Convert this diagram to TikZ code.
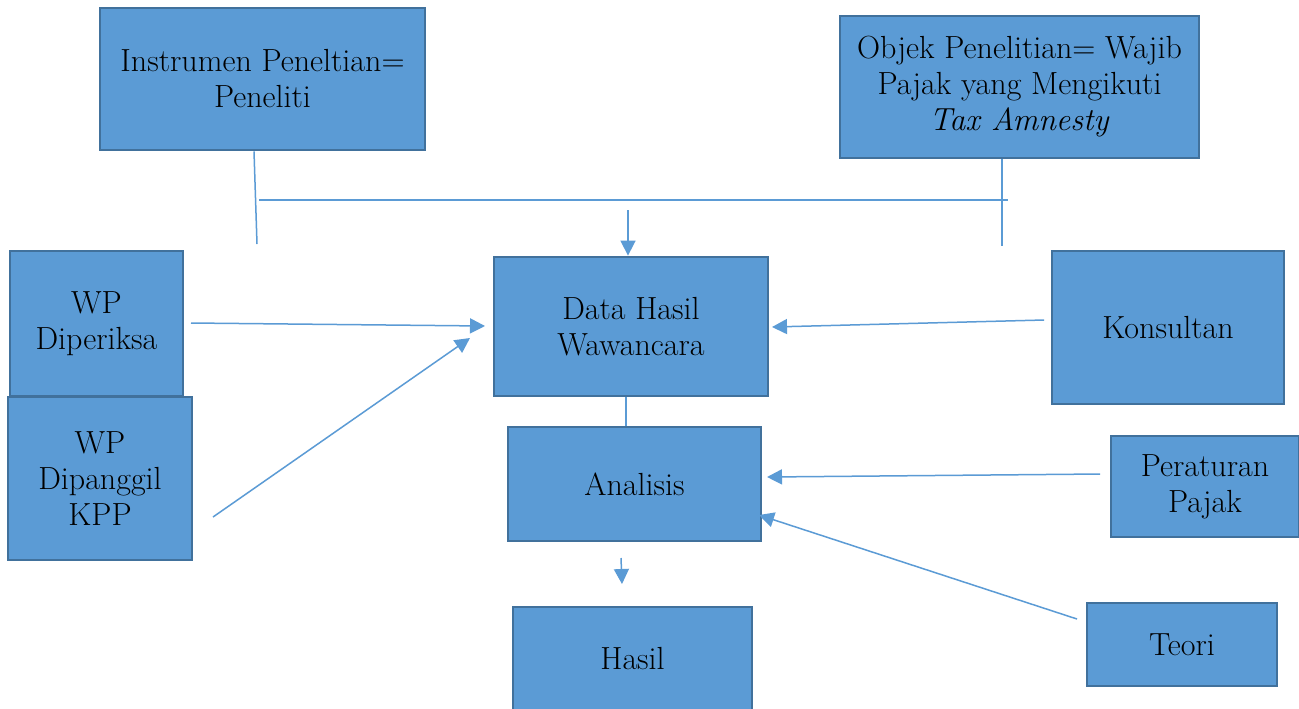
\documentclass[tikz,border=0pt]{standalone}
\usepackage{fontspec}
\usetikzlibrary{arrows.meta}
\definecolor{boxfill}{HTML}{5B9BD5}
\definecolor{boxline}{HTML}{41719C}
\definecolor{linkc}{HTML}{5B9BD5}
\tikzset{
  box/.style={draw=boxline, line width=1.4pt, fill=boxfill, inner sep=0pt, align=center,
    font=\fontsize{16}{18}\selectfont},
  link/.style={draw=linkc, line width=0.75pt},
  arr/.style={link, -{Triangle[length=7.5pt,width=7.5pt]}},
}
\begin{document}
\begin{tikzpicture}[x=0.5pt,y=-0.5pt]
\clip (0,0) rectangle (1299,708);
\fill[white] (0,0) rectangle (1299,708);
% boxes
\node[box, minimum width=162.5pt, minimum height=71pt] (inst) at (262.5,79) {Instrumen Peneltian=\\Peneliti};
\node[box, minimum width=179.5pt, minimum height=71pt] (obj) at (1019.5,87) {Objek Penelitian= Wajib\\Pajak yang Mengikuti\\\textit{Tax Amnesty}};
\node[box, minimum width=137pt, minimum height=69.5pt] (data) at (631,326.5) {Data Hasil\\Wawancara};
\node[box, minimum width=86.5pt, minimum height=72.5pt] (wpd) at (96.5,323.5) {WP\\Diperiksa};
\node[box, minimum width=92pt, minimum height=81.5pt] (wpk) at (100,478.5) {WP\\Dipanggil\\KPP};
\node[box, minimum width=116pt, minimum height=76.5pt] (kons) at (1168,327.5) {Konsultan};
\node[box, minimum width=126.5pt, minimum height=57pt] (anal) at (634.5,484) {Analisis};
\node[box, minimum width=94pt, minimum height=50.5pt] (per) at (1205,486.5) {Peraturan\\Pajak};
\node[box, minimum width=95pt, minimum height=41.5pt] (teori) at (1182,644.5) {Teori};
\node[box, minimum width=119.5pt, minimum height=52pt] (hasil) at (632.5,659) {Hasil};
% free ends
\coordinate (i1) at (257,244);
\coordinate (h1) at (259,200);
\coordinate (h2) at (1008,200);
\coordinate (o1) at (1002,246);
\coordinate (t1) at (628,210);
\coordinate (wpds) at (191,323);
\coordinate (wpde) at (485,326);
\coordinate (wpks) at (213,517);
\coordinate (wpke) at (470,338);
\coordinate (konss) at (1044,320);
\coordinate (konse) at (772,327);
\coordinate (pers) at (1100,474);
\coordinate (pere) at (767,477);
\coordinate (teos) at (1077,619);
\coordinate (teoe) at (759,515);
\coordinate (as) at (621,558);
\coordinate (ae) at (622,584);
% connectors
\draw[link] (inst.south -| 254,0) -- (i1);
\draw[link] (h1) -- (h2);
\draw[link] (obj.south -| o1) -- (o1);
\draw[arr] (t1) -- (data.north -| t1);
\draw[arr] (wpds) -- (wpde);
\draw[arr] (wpks) -- (wpke);
\draw[arr] (konss) -- (konse);
\draw[link] (data.south -| 626,0) -- (anal.north -| 626,0);
\draw[arr] (pers) -- (pere);
\draw[arr] (teos) -- (teoe);
\draw[arr] (as) -- (ae);
\end{tikzpicture}
\end{document}
